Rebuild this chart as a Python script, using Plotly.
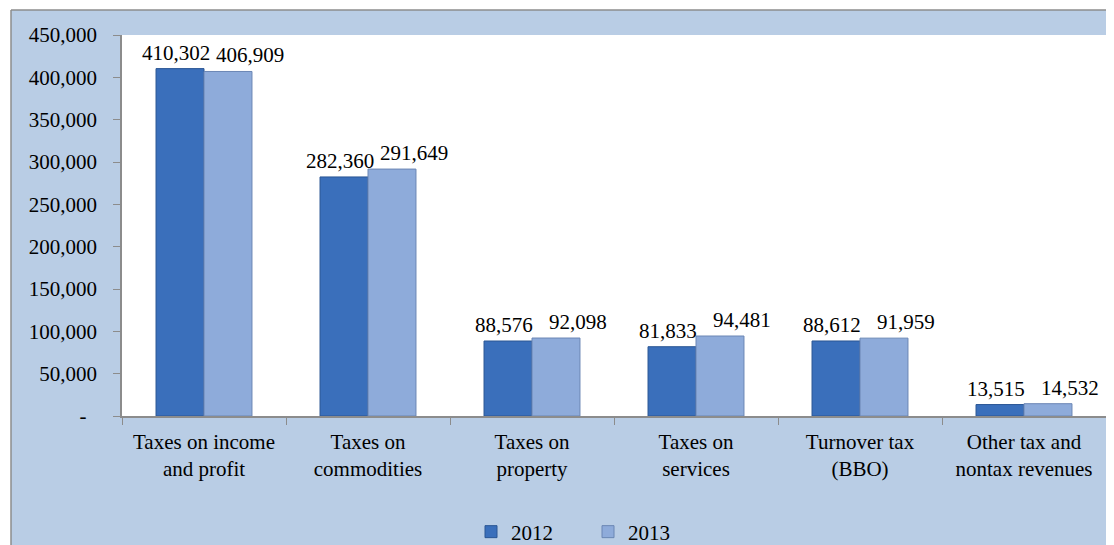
import plotly.graph_objects as go

categories = ["Taxes on income<br>and profit", "Taxes on<br>commodities", "Taxes on<br>property",
              "Taxes on<br>services", "Turnover tax<br>(BBO)", "Other tax and<br>nontax revenues"]
values_2012 = [410302, 282360, 88576, 81833, 88612, 13515]
values_2013 = [406909, 291649, 92098, 94481, 91959, 14532]
y_tickvals = [0, 50000, 100000, 150000, 200000, 250000, 300000, 350000, 400000, 450000]
y_ticktext = ["-\u00a0\u00a0", "50,000", "100,000", "150,000", "200,000", "250,000", "300,000", "350,000", "400,000", "450,000"]

FONT = "Liberation Serif, Times New Roman, serif"
BG = "#B9CDE5"
BORDER = "#8C8C8C"
FS = 21

# the page body has an 8px margin, so the figure is 8px smaller than the window
W, H = 1106, 537
L, T, R, B = 114, 27, 8, 129
pw, ph = W - L - R, H - T - B

fig = go.Figure()
fig.add_trace(go.Bar(name="2012", x=categories, y=values_2012,
                     marker=dict(color="#3A6FBB", line=dict(color="#2A5694", width=1))))
fig.add_trace(go.Bar(name="2013", x=categories, y=values_2013,
                     marker=dict(color="#8EABDA", line=dict(color="#6A86B4", width=1))))

# data labels, nudged apart like the original so neighbouring labels do not collide
annotations = []
for cat, v in zip(categories, values_2012):
    annotations.append(dict(x=cat, y=v, xref="x", yref="y", text=f"{v:,}", showarrow=False,
                            yanchor="bottom", xshift=-28, yshift=2, font=dict(family=FONT, size=FS)))
for cat, v in zip(categories, values_2013):
    annotations.append(dict(x=cat, y=v, xref="x", yref="y", text=f"{v:,}", showarrow=False,
                            yanchor="bottom", xshift=46, yshift=2, font=dict(family=FONT, size=FS)))

bx = (3 - L) / pw
by = 1 + (T - 2) / ph

fig.update_layout(
    width=W, height=H,
    margin=dict(l=L, r=R, t=T, b=B, autoexpand=False),
    paper_bgcolor=BG, plot_bgcolor="white",
    barmode="group", bargap=0.415, bargroupgap=0,
    font=dict(family=FONT, size=FS, color="black"),
    showlegend=True,
    annotations=annotations,
    legend=dict(orientation="h", x=(580 - L) / pw, xanchor="center", y=(408 - 524) / ph, yanchor="middle",
                bgcolor="rgba(0,0,0,0)", font=dict(family=FONT, size=FS),
                entrywidth=72, entrywidthmode="pixels", itemwidth=30, traceorder="normal"),
    xaxis=dict(showline=True, linecolor=BORDER, linewidth=1.5, ticks="outside", tickson="boundaries",
               ticklen=7, tickcolor=BORDER, tickfont=dict(family=FONT, size=FS), showgrid=False,
               automargin=False, ticklabelstandoff=6),
    yaxis=dict(range=[0, 450000], tickvals=y_tickvals, ticktext=y_ticktext, showline=True,
               linecolor=BORDER, linewidth=1.5, ticks="outside", ticklen=7, tickcolor=BORDER,
               showgrid=False, zeroline=False, tickfont=dict(family=FONT, size=FS),
               automargin=False, ticklabelstandoff=12),
    shapes=[
        dict(type="rect", xref="paper", yref="paper", x0=-0.2, x1=bx, y0=-0.5, y1=1.2,
             fillcolor="white", line=dict(width=0), layer="above"),
        dict(type="rect", xref="paper", yref="paper", x0=-0.2, x1=1.1, y0=by, y1=1.2,
             fillcolor="white", line=dict(width=0), layer="above"),
        dict(type="line", xref="paper", yref="paper", x0=bx, x1=bx, y0=-0.5, y1=by,
             line=dict(color=BORDER, width=1.5)),
        dict(type="line", xref="paper", yref="paper", x0=bx, x1=1.1, y0=by, y1=by,
             line=dict(color=BORDER, width=1.5)),
    ],
)

fig.write_html("out.html")
